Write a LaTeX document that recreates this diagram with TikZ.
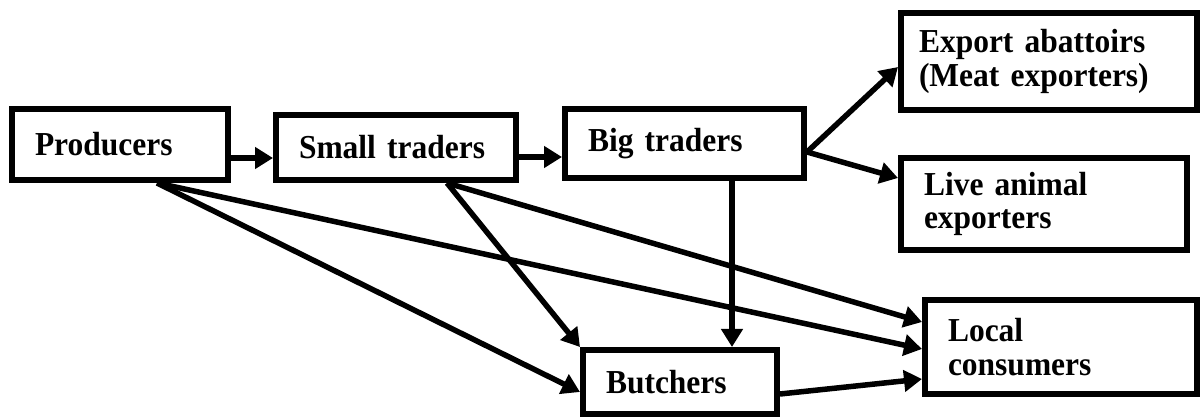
\documentclass[tikz,border=0pt]{standalone}
\usepackage{fontspec}
\setmainfont{Liberation Serif}[FakeStretch=0.94]
\usetikzlibrary{arrows.meta}
\begin{document}
\begin{tikzpicture}[x=1pt,y=-1pt,
  box/.style={draw, line width=6pt, inner xsep=23pt, inner ysep=0pt, align=left,
    font=\fontsize{33.5}{33.5}\selectfont\bfseries},
  arr/.style={line width=5.5pt, -{Triangle[length=18pt,width=21pt]}}]
\useasboundingbox (0,0) rectangle (1203,419);
\node[box, minimum width=216pt, minimum height=71pt, text width=170pt] (prod) at (120,144.5) {Producers};
\node[box, minimum width=240pt, minimum height=65pt, text width=194pt] (small) at (396,147.5) {Small traders};
\node[box, minimum width=239pt, minimum height=69pt, text width=193pt] (big) at (684.5,143.5) {Big traders};
\node[box, inner xsep=18pt, minimum width=296pt, minimum height=97pt, text width=260pt] (exp) at (1049,61.5) {Export abattoirs\\(Meat exporters)};
\node[box, minimum width=286pt, minimum height=92pt, text width=240pt] (live) at (1044,204) {Live animal\\exporters};
\node[box, minimum width=272pt, minimum height=94pt, text width=226pt] (local) at (1061,347) {Local\\consumers};
\node[box, minimum width=194pt, minimum height=64pt, text width=148pt] (butch) at (680,382) {Butchers};
\draw[arr] (prod.east |- 0,158) -- (small.west |- 0,158);
\draw[arr] (small.east |- 0,157) -- (big.west |- 0,157);
\draw[arr] (big.east |- 0,152) -- (exp.west |- 0,67);
\draw[arr] (big.east |- 0,152) -- (live.west |- 0,178);
\draw[arr] (prod.south -| 157,0) -- (butch.west |- 0,392);
\draw[arr] (prod.south -| 157,0) -- (local.west |- 0,349);
\draw[arr] (small.south -| 447,0) -- (butch.north west);
\draw[arr] (small.south -| 447,0) -- (local.west |- 0,322);
\draw[arr] (big.south -| 732,0) -- (butch.north -| 732,0);
\draw[arr] (butch.east |- 0,394) -- (local.west |- 0,379);
\end{tikzpicture}
\end{document}
